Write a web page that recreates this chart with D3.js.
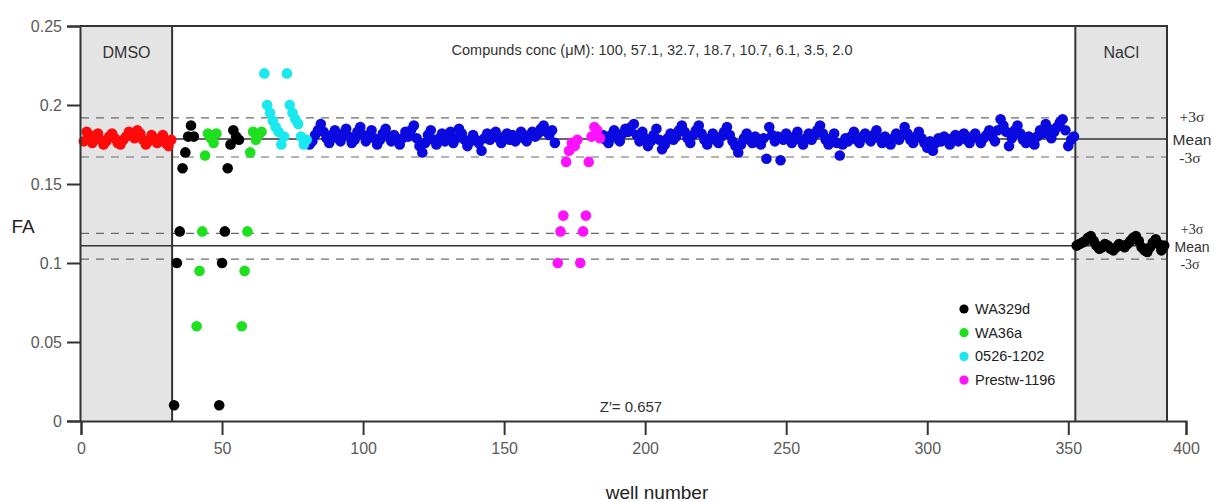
<!DOCTYPE html>
<html>
<head>
<meta charset="utf-8">
<script src="https://cdn.jsdelivr.net/npm/d3@7/dist/d3.min.js"></script>
<style>
  html, body { margin: 0; padding: 0; background: #fff; }
  svg { display: block; }
  text { font-family: "Liberation Sans", Arial, sans-serif; }
</style>
</head>
<body>
<svg id="chart" width="1214" height="502"></svg>
<script>
// ---------------- data ----------------
const xTicks = [0, 50, 100, 150, 200, 250, 300, 350, 400];
const yTicks = [0, 0.05, 0.1, 0.15, 0.2, 0.25];

const dmsoStart = 1;
const dmsoFA = [0.177, 0.183, 0.181, 0.176, 0.179, 0.182, 0.178, 0.175, 0.177, 0.180, 0.182, 0.179, 0.176, 0.175, 0.178, 0.180,
                0.183, 0.181, 0.179, 0.184, 0.182, 0.178, 0.175, 0.177, 0.181, 0.179, 0.176, 0.178, 0.181, 0.176, 0.174, 0.178];

const naclStart = 353;
const naclFA = [0.111, 0.112, 0.113, 0.114, 0.116, 0.117, 0.114, 0.111, 0.109, 0.110, 0.112, 0.111, 0.109, 0.108, 0.110, 0.112,
                0.111, 0.110, 0.112, 0.114, 0.116, 0.117, 0.114, 0.110, 0.108, 0.107, 0.110, 0.113, 0.115, 0.112, 0.108, 0.111];

const wa329dWells = [33, 34, 35, 36, 37, 38, 39, 40, 49, 50, 51, 52, 53, 54, 55, 56];
const wa329dFA    = [0.010, 0.100, 0.120, 0.160, 0.170, 0.180, 0.187, 0.180, 0.010, 0.100, 0.120, 0.160, 0.175, 0.184, 0.180, 0.178];

const wa36aWells = [41, 42, 43, 44, 45, 46, 47, 48, 57, 58, 59, 60, 61, 62, 63, 64];
const wa36aFA    = [0.060, 0.095, 0.120, 0.168, 0.182, 0.179, 0.176, 0.182, 0.060, 0.095, 0.120, 0.170, 0.183, 0.178, 0.181, 0.183];

const c0526Wells = [65, 66, 67, 68, 69, 70, 71, 72, 73, 74, 75, 76, 77, 78, 79, 80];
const c0526FA    = [0.220, 0.200, 0.195, 0.190, 0.186, 0.183, 0.175, 0.180, 0.220, 0.200, 0.195, 0.191, 0.188, 0.180, 0.175, 0.178];

const prestwWells = [169, 170, 171, 172, 173, 174, 175, 176, 177, 178, 179, 180, 181, 182, 183, 184];
const prestwFA    = [0.100, 0.120, 0.130, 0.164, 0.171, 0.176, 0.174, 0.178, 0.100, 0.120, 0.130, 0.164, 0.180, 0.186, 0.184, 0.179];

const libAStart = 81;
const libAFA = [0.175, 0.177, 0.181, 0.184, 0.188, 0.183, 0.179, 0.176, 0.181, 0.184, 0.179, 0.177, 0.182, 0.185, 0.180, 0.176,
                0.178, 0.183, 0.186, 0.181, 0.177, 0.180, 0.184, 0.179, 0.175, 0.178, 0.182, 0.185, 0.180, 0.177, 0.181, 0.178,
                0.175, 0.179, 0.183, 0.180, 0.184, 0.187, 0.179, 0.174, 0.170, 0.176, 0.181, 0.184, 0.178, 0.175, 0.179, 0.182,
                0.177, 0.180, 0.183, 0.176, 0.179, 0.185, 0.182, 0.178, 0.174, 0.177, 0.181, 0.178, 0.176, 0.171, 0.179, 0.182,
                0.178, 0.180, 0.183, 0.179, 0.176, 0.180, 0.182, 0.178, 0.181, 0.177, 0.180, 0.183, 0.179, 0.177, 0.181, 0.183,
                0.180, 0.182, 0.185, 0.187, 0.183, 0.181, 0.184, 0.176];

const libBStart = 185;
const libBFA = [0.181, 0.178, 0.176, 0.181, 0.184, 0.179, 0.177, 0.182, 0.185, 0.183, 0.186, 0.188, 0.181, 0.177, 0.183, 0.179,
                0.174, 0.177, 0.181, 0.185, 0.178, 0.172, 0.175, 0.179, 0.182, 0.178, 0.180, 0.184, 0.187, 0.183, 0.179, 0.176,
                0.181, 0.184, 0.187, 0.182, 0.178, 0.175, 0.179, 0.182, 0.178, 0.176, 0.180, 0.183, 0.186, 0.181, 0.177, 0.174,
                0.170, 0.175, 0.179, 0.182, 0.178, 0.176, 0.180, 0.178, 0.175, 0.179, 0.166, 0.186, 0.181, 0.177, 0.180, 0.165,
                0.178, 0.182, 0.179, 0.176, 0.180, 0.183, 0.178, 0.175, 0.179, 0.182, 0.178, 0.181, 0.184, 0.187, 0.182, 0.178,
                0.175, 0.179, 0.182, 0.176, 0.168, 0.175, 0.179, 0.177, 0.180, 0.183, 0.178, 0.176, 0.180, 0.182, 0.179, 0.177,
                0.181, 0.184, 0.179, 0.176, 0.180, 0.178, 0.175, 0.179, 0.182, 0.178, 0.181, 0.186, 0.182, 0.178, 0.176, 0.180,
                0.183, 0.179, 0.176, 0.173, 0.177, 0.171, 0.176, 0.179, 0.177, 0.180, 0.178, 0.175, 0.179, 0.181, 0.177, 0.179,
                0.182, 0.178, 0.176, 0.180, 0.182, 0.179, 0.176, 0.179, 0.181, 0.184, 0.180, 0.177, 0.184, 0.191, 0.187, 0.183,
                0.174, 0.179, 0.184, 0.187, 0.182, 0.178, 0.176, 0.180, 0.178, 0.175, 0.180, 0.184, 0.182, 0.188, 0.185, 0.179,
                0.183, 0.186, 0.189, 0.191, 0.184, 0.174, 0.178, 0.180];

// control statistics
const upperStats = { plus: 0.1918, mean: 0.1785, minus: 0.1671 };
const lowerStats = { plus: 0.1188, mean: 0.1109, minus: 0.1025 };

const dmsoBox = [0, 32.3];
const naclBox = [352.5, 385];

const legendNames  = ["WA329d", "WA36a", "0526-1202", "Prestw-1196"];
const legendColors = ["#000000", "#1ee01e", "#19e8ef", "#ff10ff"];

// ---------------- chart ----------------
const svg = d3.select("#chart");
const x = d3.scaleLinear().domain([0, 385, 400]).range([81, 1167, 1186]);
const y = d3.scaleLinear().domain([0, 0.25]).range([421, 26]);
const plotRight = x(naclBox[1]);

const g = svg.append("g");

// shaded control boxes
[dmsoBox, naclBox].forEach(b => {
  g.append("rect")
    .attr("x", x(b[0])).attr("y", y(0.25))
    .attr("width", x(b[1]) - x(b[0])).attr("height", y(0) - y(0.25))
    .attr("fill", "#e4e4e4");
});

// stat lines
function statLines(s) {
  g.append("line").attr("x1", x(0)).attr("x2", plotRight)
    .attr("y1", y(s.plus)).attr("y2", y(s.plus))
    .attr("stroke", "#6a6a6a").attr("stroke-width", 1.2).attr("stroke-dasharray", "8,7");
  g.append("line").attr("x1", x(0)).attr("x2", plotRight)
    .attr("y1", y(s.minus)).attr("y2", y(s.minus))
    .attr("stroke", "#6a6a6a").attr("stroke-width", 1.2).attr("stroke-dasharray", "8,7");
  g.append("line").attr("x1", x(0)).attr("x2", plotRight)
    .attr("y1", y(s.mean)).attr("y2", y(s.mean))
    .attr("stroke", "#333").attr("stroke-width", 1.6);
}
statLines(upperStats);
statLines(lowerStats);

// box borders
[x(dmsoBox[1]), x(naclBox[0]), plotRight].forEach(px => {
  g.append("line").attr("x1", px).attr("x2", px).attr("y1", y(0.25)).attr("y2", y(0))
    .attr("stroke", "#333").attr("stroke-width", 2);
});
g.append("line").attr("x1", x(0) - 1).attr("x2", plotRight + 1).attr("y1", y(0.25)).attr("y2", y(0.25))
  .attr("stroke", "#333").attr("stroke-width", 2);

// axes
const yAxis = d3.axisLeft(y).tickValues(yTicks).tickSize(13).tickPadding(5)
  .tickFormat(d => String(+d.toFixed(2)));
const yg = svg.append("g").attr("transform", `translate(${x(0) - 1},0)`).call(yAxis);
yg.select(".domain").attr("stroke", "#333").attr("stroke-width", 2);

const xAxis = d3.axisBottom(x).tickValues(xTicks).tickSize(14).tickPadding(8)
  .tickFormat(d3.format("d"));
const xg = svg.append("g").attr("transform", `translate(0,${y(0)})`).call(xAxis);
xg.select(".domain").attr("stroke", "#333").attr("stroke-width", 2);

[yg, xg].forEach(a => {
  a.selectAll(".tick line").attr("stroke", "#333").attr("stroke-width", 2);
  a.selectAll(".tick text").attr("fill", "#5a5a5a").style("font-size", "16px")
    .style("font-family", "'Liberation Sans Narrow','Liberation Sans',Arial,sans-serif");
});

// points
const R = 5.3;
function dots(wells, vals, color) {
  g.append("g").selectAll("circle").data(vals).join("circle")
    .attr("cx", (d, i) => x(wells[i]))
    .attr("cy", d => y(d))
    .attr("r", R).attr("fill", color);
}
const seq = (start, n) => d3.range(start, start + n);
dots(seq(dmsoStart, dmsoFA.length), dmsoFA, "#ff0a0a");
dots(seq(libAStart, libAFA.length), libAFA, "#0a0ae0");
dots(seq(libBStart, libBFA.length), libBFA, "#0a0ae0");
dots(wa329dWells, wa329dFA, legendColors[0]);
dots(wa36aWells, wa36aFA, legendColors[1]);
dots(c0526Wells, c0526FA, legendColors[2]);
dots(prestwWells, prestwFA, legendColors[3]);
dots(seq(naclStart, naclFA.length), naclFA, "#000000");

// labels
const txt = (tx, ty, s, size, opts = {}) => svg.append("text")
  .attr("x", tx).attr("y", ty).attr("text-anchor", opts.anchor || "middle")
  .attr("dominant-baseline", "central")
  .attr("fill", opts.fill || "#333")
  .style("font-size", size + "px")
  .style("font-family", opts.family || "'Liberation Sans',Arial,sans-serif")
  .text(s);

txt((x(dmsoBox[0]) + x(dmsoBox[1])) / 2, 52, "DMSO", 16);
txt((x(naclBox[0]) + x(naclBox[1])) / 2, 52, "NaCl", 16);
txt(652, 50, "Compunds conc (\u03bcM): 100, 57.1, 32.7, 18.7, 10.7, 6.1, 3.5, 2.0", 14.5);
txt(631, 406, "Z\u2032= 0.657", 15);
txt(23, 226, "FA", 19, { fill: "#222" });
txt(657, 492, "well number", 19, { fill: "#222" });

function statLabels(s, dp, dm, dn, size) {
  txt(1192, y(s.plus) + dp, "+3\u03c3", size, { family: "'Liberation Serif','Times New Roman',serif" });
  txt(1192, y(s.mean) + dm, "Mean", size);
  txt(1190, y(s.minus) + dn, "-3\u03c3", size, { family: "'Liberation Serif','Times New Roman',serif" });
}
statLabels(upperStats, -1, 1, 1, 15.5);
statLabels(lowerStats, -4, 1.5, 5.5, 14);

// legend
const lg = svg.append("g").attr("transform", "translate(964,309)");
legendNames.forEach((n, i) => {
  const row = lg.append("g").attr("transform", `translate(0,${i * 23.7})`);
  row.append("circle").attr("r", 4.6).attr("fill", legendColors[i]);
  row.append("text").attr("x", 11).attr("y", 0).attr("dominant-baseline", "central")
    .attr("fill", "#222").style("font-size", "14.5px").text(n);
});
</script>
</body>
</html>
